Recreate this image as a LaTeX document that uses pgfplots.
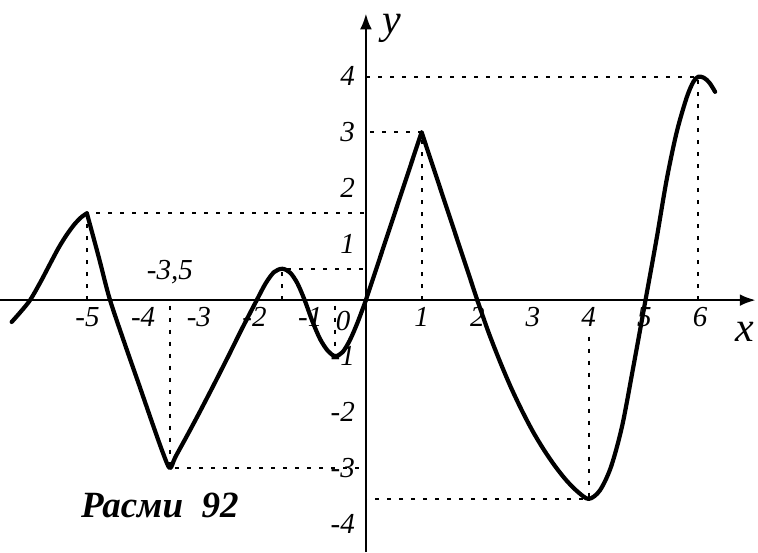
\documentclass[border=0pt]{standalone}
\usepackage{pgfplots}
\pgfplotsset{compat=1.18}
\usepackage{fontspec}
\setmainfont{Liberation Serif}
\usetikzlibrary{arrows.meta}

\begin{document}
\begin{tikzpicture}
\begin{axis}[
  x=27.85pt, y=28pt,
  xmin=-6.57, xmax=7.0, ymin=-4.5, ymax=5.12,
  axis lines=middle,
  axis line style={line width=1.3pt, -{Latex[length=8pt,width=6pt]}},
  xtick={-5,-4,-3,-2,-1,1,2,3,4,5,6},
  xticklabels={-5,-4,-3,-2,-1,1,2,3,4,5,6},
  ytick={-4,-3,-2,-1,1,2,3,4},
  yticklabels={-4,-3,-2,-1,1,2,3,4},
  major tick length=0pt,
  ticklabel style={font=\fontsize{14.5}{16}\selectfont\itshape},
  yticklabel style={xshift=-2pt},
  clip=false,
  guide/.style={line width=1pt, dash pattern=on 2pt off 4pt, black},
  curve/.style={line width=2.1pt, black, line cap=round, line join=round},
]
\coordinate (BL) at (axis cs:-6.57,-4.5);
\coordinate (TR) at (axis cs:7.04,5.36);

% guide lines
\addplot[guide] coordinates {(-5.01,0) (-5.01,1.55) (0,1.55)};
\addplot[guide] coordinates {(-3.52,-0.1) (-3.52,-3) (0,-3)};
\addplot[guide] coordinates {(-1.5,0) (-1.5,0.56) (0,0.56)};
\addplot[guide] coordinates {(-0.55,-0.1) (-0.55,-1)};
\addplot[guide] coordinates {(1,0) (1,3) (0,3)};
\addplot[guide] coordinates {(4,-0.65) (4,-3.55) (0,-3.55)};
\addplot[guide] coordinates {(5.97,0) (5.97,3.99) (0,3.99)};

% curve
\addplot[curve, smooth] coordinates {
 (-6.36,-0.39) (-6.2,-0.21) (-6.03,0.0) (-5.85,0.31) (-5.67,0.65) (-5.52,0.93)
 (-5.37,1.17) (-5.22,1.37) (-5.1,1.49) (-5.01,1.55)};
\addplot[curve, smooth] coordinates {
 (-5.01,1.55) (-4.8,0.78) (-4.6,0.02) (-4.33,-0.78) (-4.06,-1.55) (-3.82,-2.24)
 (-3.64,-2.74) (-3.52,-3.0) (-3.42,-2.8) (-3.2,-2.4) (-2.98,-1.99) (-2.73,-1.51)
 (-2.47,-1.0) (-2.22,-0.5) (-1.96,0) (-1.8,0.3) (-1.65,0.5) (-1.5,0.56)
 (-1.36,0.49) (-1.23,0.3) (-1.1,0.0) (-0.96,-0.38) (-0.82,-0.7) (-0.68,-0.91)
 (-0.55,-1.0) (-0.42,-0.93) (-0.29,-0.72) (-0.15,-0.4) (0,0)};
\addplot[curve, sharp plot] coordinates {(0,0) (1,3) (2,0)};
\addplot[curve, smooth] coordinates {
 (2.0,0) (2.2,-0.57) (2.4,-1.08) (2.6,-1.55) (2.8,-1.97) (3.0,-2.35) (3.2,-2.68)
 (3.4,-2.97) (3.6,-3.22) (3.8,-3.42) (4.0,-3.55) (4.2,-3.4) (4.4,-2.98)
 (4.6,-2.25) (4.8,-1.2) (5.02,0) (5.22,1.1) (5.4,2.15) (5.58,3.0) (5.76,3.62)
 (5.88,3.9) (5.97,3.99) (6.07,3.97) (6.17,3.88) (6.27,3.72)};

% labels
\node[font=\fontsize{14.5}{16}\selectfont\itshape] at (axis cs:-0.41,-0.38) {0};
\node[font=\fontsize{14.5}{16}\selectfont\itshape] at (axis cs:-3.52,0.5) {-3,5};
\node[font=\fontsize{21}{23}\selectfont\itshape] at (axis cs:6.8,-0.57) {x};
\node[font=\fontsize{21}{23}\selectfont\itshape] at (axis cs:0.47,4.86) {y};
\node[font=\fontsize{18.5}{20}\selectfont\bfseries\itshape] at (axis cs:-3.7,-3.66) {Расми\ \ 92};
\end{axis}
\pgfresetboundingbox
\path (BL) rectangle (TR);
\end{tikzpicture}
\end{document}
